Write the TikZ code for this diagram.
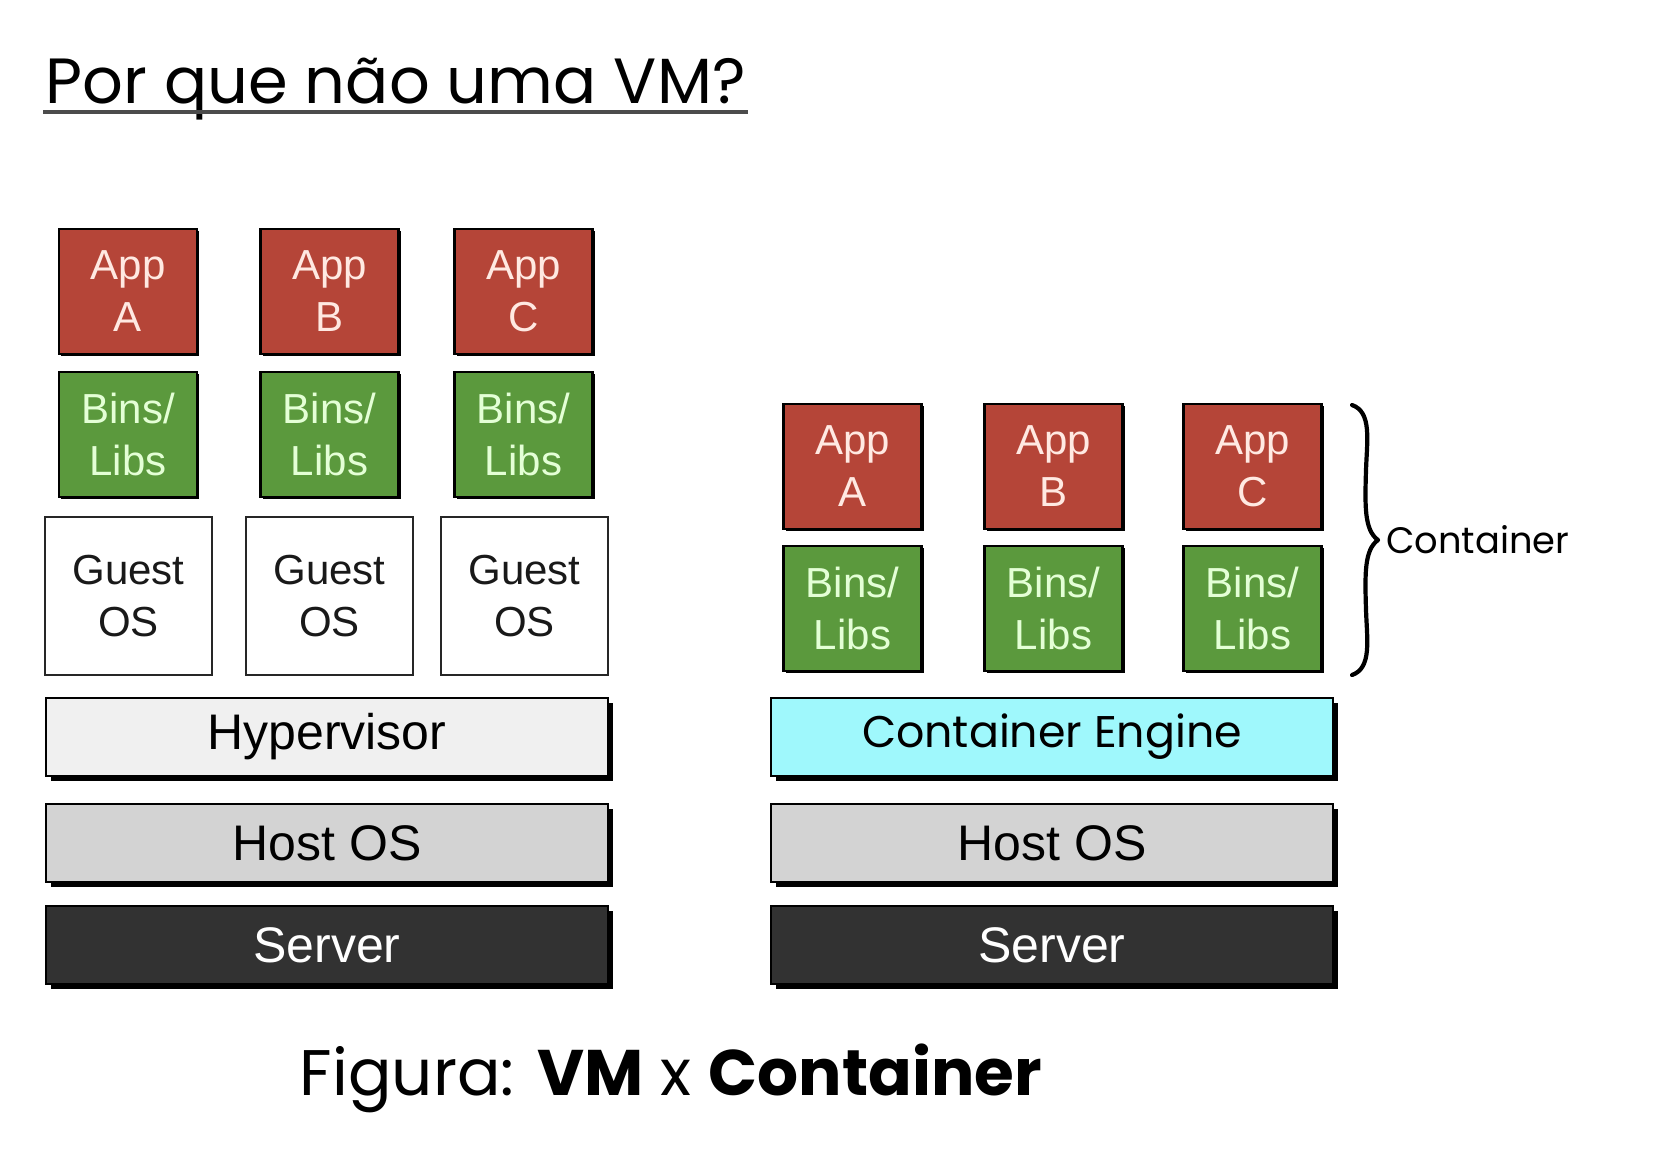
\documentclass[tikz,border=0pt]{standalone}
\usepackage{fontspec}
\usepackage{graphicx}
\setmainfont{Liberation Sans}
\newfontfamily\boxfont{Liberation Sans}
\newfontfamily\roundfont{Poppins}
\usetikzlibrary{shadows}
\definecolor{appred}{HTML}{B54538}
\definecolor{apptext}{HTML}{FFE9E2}
\definecolor{libgreen}{HTML}{5B993D}
\definecolor{libtext}{HTML}{E4FFD6}
\definecolor{hypfill}{HTML}{F0F0F0}
\definecolor{hostfill}{HTML}{D3D3D3}
\definecolor{serverfill}{HTML}{323232}
\definecolor{enginefill}{HTML}{9FF8FC}
\tikzset{
  smallbox/.style={draw=black, line width=1.3pt, inner sep=0pt, align=center,
    minimum width=69pt, minimum height=62.5pt,
    font=\boxfont\fontsize{21}{26}\selectfont,
    drop shadow={shadow xshift=1.2pt, shadow yshift=-1.2pt, fill=black, opacity=1}},
  appbox/.style={smallbox, fill=appred, text=apptext},
  libbox/.style={smallbox, fill=libgreen, text=libtext},
  guestbox/.style={draw=black!85, line width=1pt, fill=white, inner sep=0pt, align=center,
    minimum width=83.5pt, minimum height=79pt,
    font=\boxfont\fontsize{21}{26}\selectfont, text=black!90},
  barbox/.style={draw=black, line width=1pt, inner sep=0pt,
    minimum width=281pt, minimum height=39pt,
    font=\boxfont\fontsize{25}{30}\selectfont,
    drop shadow={shadow xshift=2.5pt, shadow yshift=-2.5pt, fill=black, opacity=1}},
}
\begin{document}
\begin{tikzpicture}[x=0.5pt, y=-0.5pt]
\useasboundingbox[fill=white] (0,0) rectangle (1670,1158);

% title
\node[anchor=base west, inner sep=0pt] (title) at (45,103)
  {\resizebox{350pt}{!}{\roundfont Por que não uma VM?}};
\coordinate (ulA) at (43,112);
\coordinate (ulB) at (748,112);
\draw[line width=2pt, color=black!70] (ulA) -- (ulB);

% ---------- VM stack ----------
\node[appbox] (vappA) at (128,291.5) {App\\A};
\node[appbox] (vappB) at (329.5,291.5) {App\\B};
\node[appbox] (vappC) at (523.5,291.5) {App\\C};
\node[libbox] (vlibA) at (128,434.5) {Bins/\\Libs};
\node[libbox] (vlibB) at (329.5,434.5) {Bins/\\Libs};
\node[libbox] (vlibC) at (523.5,434.5) {Bins/\\Libs};
\node[guestbox] (guestA) at (128.5,596) {Guest\\OS};
\node[guestbox] (guestB) at (329.5,596) {Guest\\OS};
\node[guestbox] (guestC) at (524.5,596) {Guest\\OS};
\node[barbox, fill=hypfill] (hyper) at (327,737) {Hypervisor};
\node[barbox, fill=hostfill] (vhost) at (327,843) {Host OS};
\node[barbox, fill=serverfill, text=white] (vserver) at (327,945) {Server};

% ---------- Container stack ----------
\node[appbox] (cappA) at (852.5,466.5) {App\\A};
\node[appbox] (cappB) at (1053.5,466.5) {App\\B};
\node[appbox] (cappC) at (1252.5,466.5) {App\\C};
\node[libbox] (clibA) at (852.5,608.5) {Bins/\\Libs};
\node[libbox] (clibB) at (1053.5,608.5) {Bins/\\Libs};
\node[libbox] (clibC) at (1252.5,608.5) {Bins/\\Libs};
\node[barbox, fill=enginefill] (engine) at (1052,737)
  {\resizebox{190pt}{!}{\roundfont Container Engine}};
\node[barbox, fill=hostfill] (chost) at (1052,843) {Host OS};
\node[barbox, fill=serverfill, text=white] (cserver) at (1052,945) {Server};

% brace
\coordinate (brTop) at (1352,405);
\coordinate (brTip) at (1378,540);
\coordinate (brBot) at (1352,675);
\draw[line width=2.1pt, line cap=round, line join=round]
  (brTop) .. controls (1372,412) and (1367,440) .. (1366,470)
  .. controls (1365,505) and (1364,530) .. (brTip)
  .. controls (1364,550) and (1365,575) .. (1366,610)
  .. controls (1367,640) and (1372,668) .. (brBot);
\node[anchor=west, inner sep=0pt] (contlabel) at (1386,540)
  {\resizebox{91.5pt}{!}{\roundfont Container}};

% caption
\node[inner sep=0pt] (caption) at (671,1078)
  {\resizebox{371pt}{!}{\roundfont Figura: \textbf{VM} x \textbf{Container}}};
\end{tikzpicture}
\end{document}
